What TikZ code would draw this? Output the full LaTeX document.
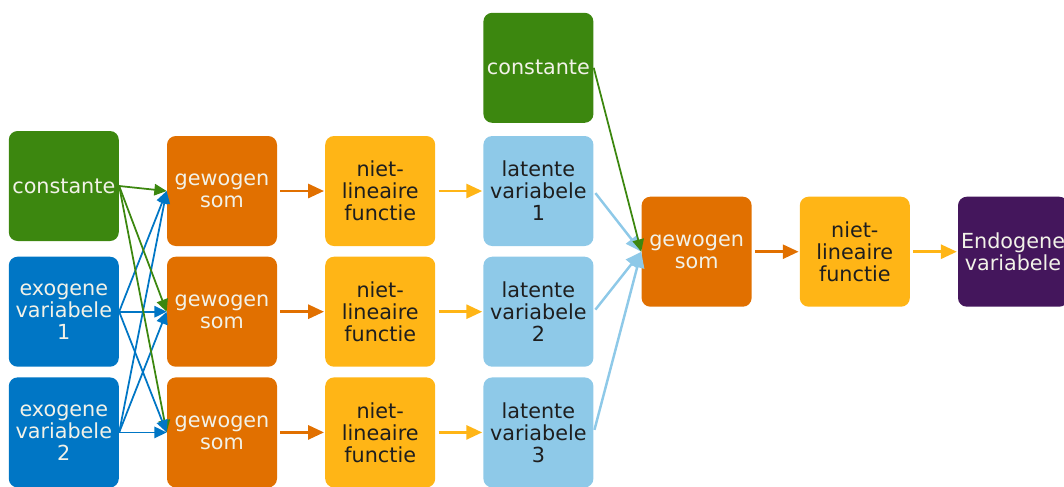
\documentclass[tikz,border=0pt]{standalone}
\usepackage{fontspec}
\setmainfont{DejaVu Sans}
\usepackage{tikz}
\usetikzlibrary{arrows.meta, positioning}
\definecolor{net-green}{RGB}{60,135,15}
\definecolor{net-blue}{RGB}{0,118,197}
\definecolor{net-orange}{RGB}{225,112,0}
\definecolor{net-yellow}{RGB}{255,181,22}
\definecolor{net-sky}{RGB}{142,201,232}
\definecolor{net-purple}{RGB}{68,22,92}
\definecolor{net-light}{RGB}{242,242,232}
\definecolor{net-dark}{RGB}{30,30,30}

\begin{document}
\begin{tikzpicture}[
    node distance=0.95cm,
    unit/.style={rectangle, rounded corners=5pt, minimum width=2.2cm, minimum height=2.2cm, inner sep=1pt, align=center, font=\fontsize{11.8}{12.5}\selectfont},
    const/.style={unit, fill=net-green, text=net-light},
    exo/.style={unit, fill=net-blue, text=net-light},
    som/.style={unit, fill=net-orange, text=net-light},
    func/.style={unit, fill=net-yellow, text=net-dark},
    latent/.style={unit, fill=net-sky, text=net-dark},
    endo/.style={unit, fill=net-purple, text=net-light},
    link/.style={line width=1.4pt, -{Triangle[length=9pt, width=8pt]}},
    cross/.style={line width=1pt, -{Triangle[length=7pt, width=6.5pt]}},
]
\useasboundingbox (0,0) rectangle (21.28,-9.72);

% Hidden layer
\node[som] (som1) at (4.44,-3.82) {gewogen\\som};
\node[som, below=0.2cm of som1] (som2) {gewogen\\som};
\node[som, below=0.2cm of som2] (som3) {gewogen\\som};

\node[func, right=of som1] (func1) {niet-\\lineaire\\functie};
\node[func, right=of som2] (func2) {niet-\\lineaire\\functie};
\node[func, right=of som3] (func3) {niet-\\lineaire\\functie};

\node[latent, right=of func1] (lat1) {latente\\variabele\\1};
\node[latent, right=of func2] (lat2) {latente\\variabele\\2};
\node[latent, right=of func3] (lat3) {latente\\variabele\\3};
\node[const, above=0.25cm of lat1] (const2) {constante};

% Inputs
\node[const, left=of som1, yshift=0.1cm] (const1) {constante};
\node[exo, left=of som2] (exo1) {exogene\\variabele\\1};
\node[exo, left=of som3] (exo2) {exogene\\variabele\\2};

% Output
\node[som, right=of lat2, yshift=1.2cm] (somout) {gewogen\\som};
\node[func, right=of somout] (funcout) {niet-\\lineaire\\functie};
\node[endo, right=of funcout] (endo) {Endogene\\variabele};

% Connections
\foreach \i in {1,2,3} {
    \draw[cross, net-green] (const1.east) -- (som\i.west);
    \draw[cross, net-blue] (exo1.east) -- (som\i.west);
    \draw[cross, net-blue] (exo2.east) -- (som\i.west);
    \draw[link, net-orange, shorten <=1.7pt, shorten >=0.5pt] (som\i) -- (func\i);
    \draw[link, net-yellow, shorten <=1.7pt, shorten >=0.5pt] (func\i) -- (lat\i);
    \draw[link, net-sky, shorten <=1.5pt] (lat\i.east) -- (somout.west);
}
\draw[cross, net-green] (const2.east) -- (somout.west);
\draw[link, net-orange, shorten <=1.7pt, shorten >=0.5pt] (somout) -- (funcout);
\draw[link, net-yellow, shorten <=1.7pt, shorten >=0.5pt] (funcout) -- (endo);

\end{tikzpicture}
\end{document}
